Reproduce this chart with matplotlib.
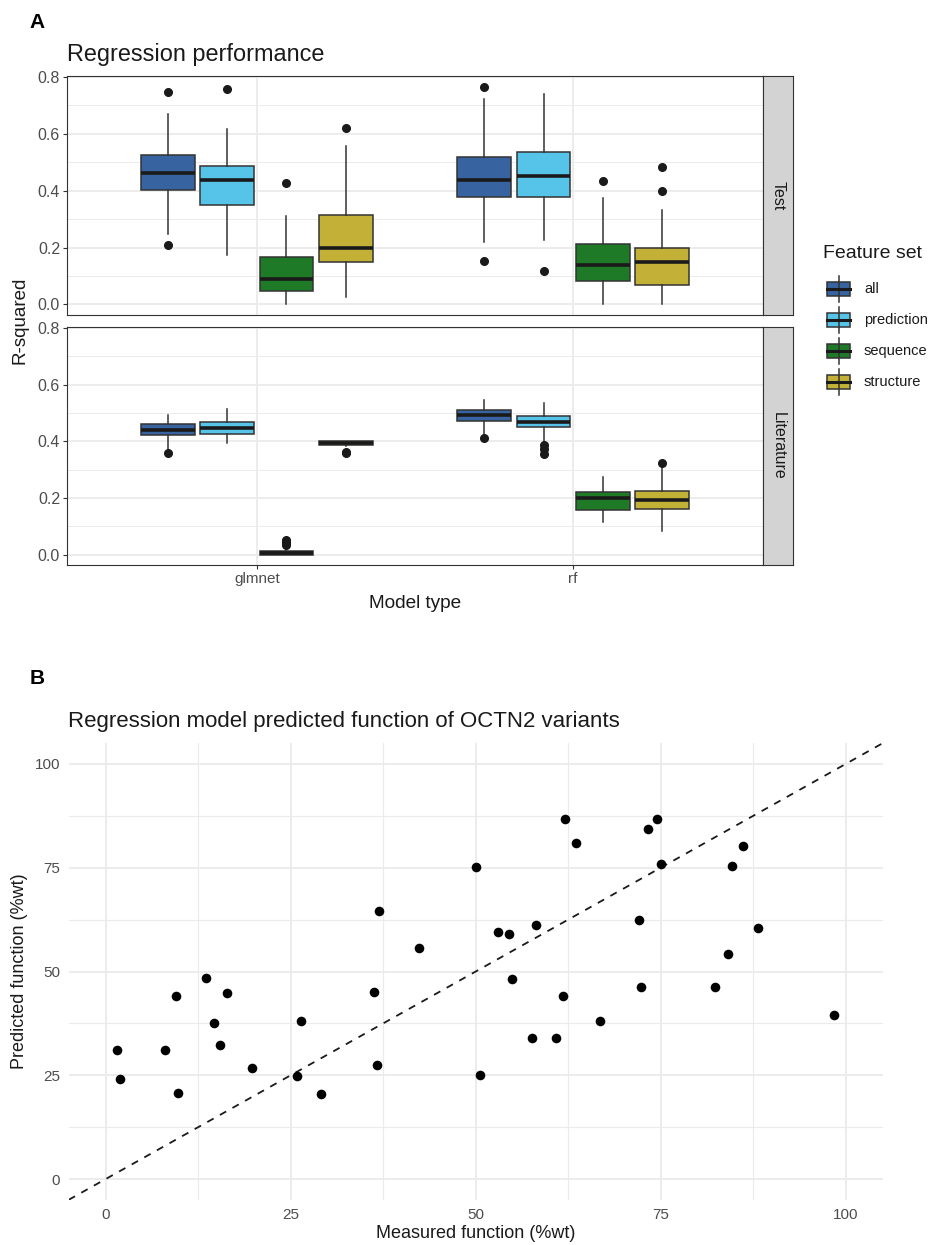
import matplotlib
matplotlib.use("Agg")
import matplotlib.pyplot as plt
from matplotlib.patches import Rectangle
from matplotlib.lines import Line2D
import numpy as np

plt.rcParams['font.family'] = ['Liberation Sans', 'DejaVu Sans']

# ---------------- data ----------------
model_types = ['glmnet', 'rf']
feature_sets = ['all', 'prediction', 'sequence', 'structure']
facets = ['Test', 'Literature']
fill_colors = ['#3763A0', '#56C3E9', '#1F7A27', '#C2B136']

# Test facet, rows = model type, cols = feature set
test_whislo = [[0.246, 0.175, 0.000, 0.026], [0.219, 0.228, 0.000, 0.000]]
test_q1 = [[0.401, 0.351, 0.049, 0.148], [0.378, 0.378, 0.084, 0.068]]
test_med = [[0.462, 0.436, 0.090, 0.200], [0.439, 0.450, 0.139, 0.148]]
test_q3 = [[0.525, 0.487, 0.166, 0.315], [0.520, 0.535, 0.211, 0.199]]
test_whishi = [[0.669, 0.616, 0.312, 0.556], [0.723, 0.738, 0.373, 0.331]]
test_fliers = [[[0.746, 0.209], [0.759], [0.427], [0.619]],
               [[0.766, 0.153], [0.118], [0.435], [0.482, 0.400]]]

# Literature facet
lit_whislo = [[0.368, 0.394, 0.000, 0.383], [0.427, 0.398, 0.113, 0.082]]
lit_q1 = [[0.421, 0.425, 0.000, 0.385], [0.471, 0.450, 0.158, 0.161]]
lit_med = [[0.439, 0.445, 0.006, 0.392], [0.491, 0.469, 0.199, 0.193]]
lit_q3 = [[0.459, 0.466, 0.014, 0.400], [0.511, 0.489, 0.220, 0.225]]
lit_whishi = [[0.491, 0.512, 0.020, 0.402], [0.547, 0.535, 0.275, 0.310]]
lit_fliers = [[[0.359], [], [0.052, 0.046, 0.040, 0.034], [0.360, 0.363]],
              [[0.412], [0.386, 0.371, 0.356], [], [0.324]]]

# Panel B scatter
measured = [9.5, 13.6, 16.4, 37.0, 42.3, 36.2,
            50.0, 62.0, 63.6, 73.3, 74.5, 75.0, 84.6, 86.1,
            53.0, 54.5, 58.2, 72.1, 88.2, 84.1, 54.9, 72.3, 82.4, 61.8,
            1.5, 1.9, 8.0, 9.8, 14.7, 15.4, 19.8, 25.8, 26.4, 29.1, 36.7,
            50.6, 57.6, 60.9, 66.8, 98.4]
predicted = [44.2, 48.5, 44.7, 64.5, 55.7, 45.0,
             75.2, 86.8, 80.9, 84.3, 86.8, 75.8, 75.5, 80.3,
             59.5, 59.1, 61.2, 62.4, 60.5, 54.2, 48.2, 46.2, 46.2, 44.2,
             31.1, 24.0, 31.1, 20.8, 37.5, 32.2, 26.8, 24.9, 38.1, 20.5, 27.5,
             25.0, 33.9, 34.0, 38.1, 39.4]

# ---------------- layout helpers ----------------
W, H = 935, 1245
fig = plt.figure(figsize=(W / 100, H / 100), dpi=100)


def rect(l, t, r, b):
    return [l / W, 1 - b / H, (r - l) / W, (b - t) / H]


def fx(x):
    return x / W


def fy(y):
    return 1 - y / H


TXT = '#1A1A1A'
TICKC = '#4D4D4D'
GRID = '#EBEBEB'
EDGE = '#333333'

# ---------------- Panel A ----------------
offsets = (np.arange(4) - 1.5) * 0.1875
box_w = 0.169

panels = [
    (facets[0], (75.7, 315), test_whislo, test_q1, test_med, test_q3, test_whishi, test_fliers),
    (facets[1], (326.7, 565), lit_whislo, lit_q1, lit_med, lit_q3, lit_whishi, lit_fliers),
]

for pi, (fname, (top, bot), wlo, q1, med, q3, whi, fl) in enumerate(panels):
    ax = fig.add_axes(rect(67, top, 763, bot))
    ax.set_xlim(0.4, 2.6)
    ax.set_ylim(-0.037, 0.804)
    for y in [0.1, 0.3, 0.5, 0.7]:
        ax.axhline(y, color=GRID, lw=0.7, zorder=0)
    for y in [0.0, 0.2, 0.4, 0.6, 0.8]:
        ax.axhline(y, color=GRID, lw=1.3, zorder=0)
    for x in [1, 2]:
        ax.axvline(x, color=GRID, lw=1.3, zorder=0)
    for m in range(len(model_types)):
        for f in range(len(feature_sets)):
            st = [dict(whislo=wlo[m][f], q1=q1[m][f], med=med[m][f], q3=q3[m][f],
                       whishi=whi[m][f], fliers=fl[m][f])]
            ax.bxp(st, positions=[m + 1 + offsets[f]], widths=box_w, patch_artist=True,
                   showcaps=False, manage_ticks=False,
                   boxprops=dict(facecolor=fill_colors[f], edgecolor=EDGE, linewidth=1.1),
                   medianprops=dict(color='#1A1A1A', linewidth=2.6, solid_capstyle='butt'),
                   whiskerprops=dict(color=EDGE, linewidth=1.1),
                   flierprops=dict(marker='o', markerfacecolor='#1A1A1A',
                                   markeredgecolor='#1A1A1A', markersize=5.5))
    ax.set_yticks([0.0, 0.2, 0.4, 0.6, 0.8])
    ax.set_yticklabels(['0.0', '0.2', '0.4', '0.6', '0.8'])
    ax.set_xticks([1, 2])
    if pi == 1:
        ax.set_xticklabels(model_types)
        ax.tick_params(axis='x', length=3, width=0.8, color=EDGE, labelcolor=TICKC,
                       labelsize=11, pad=2)
    else:
        ax.set_xticklabels([])
        ax.tick_params(axis='x', length=0)
    ax.tick_params(axis='y', length=3, width=0.8, color=EDGE, labelcolor=TICKC,
                   labelsize=11.5, pad=2)
    for s in ax.spines.values():
        s.set_color(EDGE)
        s.set_linewidth(0.8)
    ax.set_facecolor('white')
    # strip
    sax = fig.add_axes(rect(763, top, 793, bot))
    sax.set_facecolor('#D3D3D3')
    sax.set_xticks([])
    sax.set_yticks([])
    for s in sax.spines.values():
        s.set_color(EDGE)
        s.set_linewidth(0.8)
    sax.text(0.5, 0.5, fname, rotation=270, ha='center', va='center',
             fontsize=11.5, color=TXT, transform=sax.transAxes)

fig.text(fx(37), fy(22), 'A', fontsize=15, fontweight='bold', ha='center', va='center')
fig.text(fx(67), fy(55), 'Regression performance', fontsize=16.9, color=TXT,
         ha='left', va='center')
fig.text(fx(20), fy(320), 'R-squared', fontsize=13.5, color=TXT, rotation=90,
         ha='center', va='center')
fig.text(fx(415), fy(604), 'Model type', fontsize=13.7, color=TXT, ha='center', va='center')

# legend (drawn manually)
fig.text(fx(823), fy(254), 'Feature set', fontsize=14, color=TXT, ha='left', va='center')
row_y = [289, 320, 351, 382]
for f, name in enumerate(feature_sets):
    yc = row_y[f]
    kx0, kx1 = 827, 850
    fig.add_artist(Line2D([fx((kx0 + kx1) / 2)] * 2, [fy(yc - 13), fy(yc + 13)],
                          color=EDGE, lw=1.1, transform=fig.transFigure))
    fig.add_artist(Rectangle((fx(kx0), fy(yc + 7)), fx(kx1 - kx0), (14) / H,
                             facecolor=fill_colors[f], edgecolor=EDGE, lw=1.1,
                             transform=fig.transFigure))
    fig.add_artist(Line2D([fx(kx0), fx(kx1)], [fy(yc), fy(yc)], color='#1A1A1A', lw=2.2,
                          transform=fig.transFigure))
    fig.text(fx(864), fy(yc), name, fontsize=10.5, color=TXT, ha='left', va='center')

# ---------------- Panel B ----------------
axb = fig.add_axes(rect(68.7, 743.2, 882.7, 1199.8))
axb.set_xlim(-5, 105)
axb.set_ylim(-5, 105)
for v in [12.5, 37.5, 62.5, 87.5]:
    axb.axhline(v, color=GRID, lw=0.8, zorder=0)
    axb.axvline(v, color=GRID, lw=0.8, zorder=0)
for v in [0, 25, 50, 75, 100]:
    axb.axhline(v, color=GRID, lw=1.3, zorder=0)
    axb.axvline(v, color=GRID, lw=1.3, zorder=0)
axb.axline((0, 0), slope=1, color='#1A1A1A', lw=1.3, linestyle=(0, (4, 4)), zorder=2)
axb.scatter(measured, predicted, s=48, color='black', zorder=3, linewidths=0)
axb.set_xticks([0, 25, 50, 75, 100])
axb.set_yticks([0, 25, 50, 75, 100])
axb.tick_params(length=0, labelsize=11, labelcolor=TICKC, pad=6)
for s in axb.spines.values():
    s.set_visible(False)

fig.text(fx(37), fy(678), 'B', fontsize=15, fontweight='bold', ha='center', va='center')
fig.text(fx(68), fy(722), 'Regression model predicted function of OCTN2 variants',
         fontsize=16, color=TXT, ha='left', va='center')
fig.text(fx(20), fy(971), 'Predicted function (%wt)', fontsize=13, color=TXT, rotation=90,
         ha='center', va='center')
fig.text(fx(476), fy(1234), 'Measured function (%wt)', fontsize=13, color=TXT,
         ha='center', va='center')

fig.savefig('out.png', dpi=100, facecolor='white')
